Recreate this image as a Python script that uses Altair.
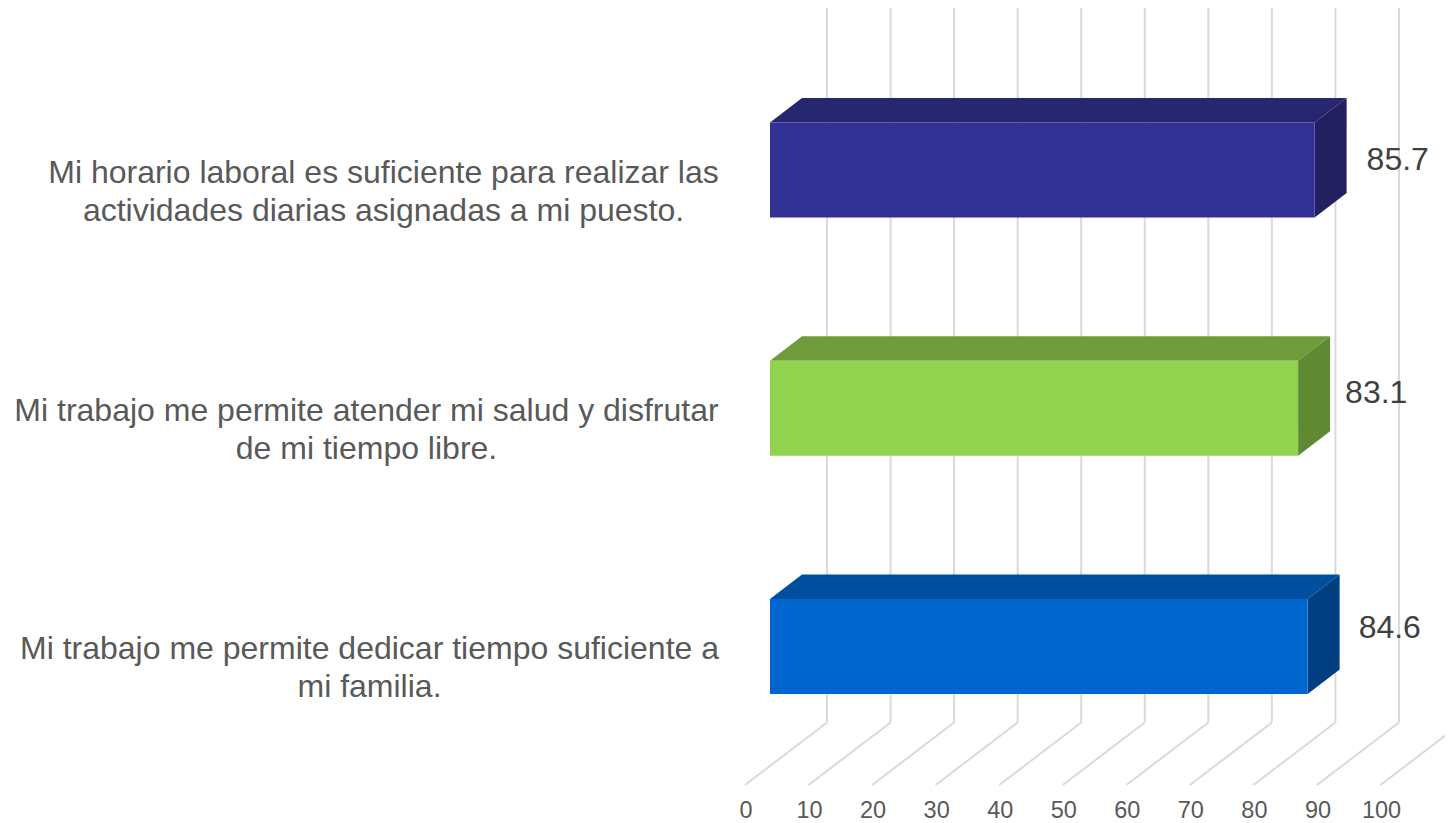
import altair as alt
import pandas as pd

# --- chart values ---
categories = [
    "Mi trabajo me permite dedicar tiempo suficiente a\nmi familia.",
    "Mi trabajo me permite atender mi salud y disfrutar\nde mi tiempo libre.",
    "Mi horario laboral es suficiente para realizar las\nactividades diarias asignadas a mi puesto.",
]
values = [84.6, 83.1, 85.7]
front_colors = ["#0066CF", "#91D34F", "#313094"]
top_colors = ["#004F9F", "#6F9B3A", "#272771"]
side_colors = ["#003F82", "#5F8A33", "#222060"]
axis_ticks = list(range(0, 110, 10))
grid_ticks = list(range(0, 100, 10))

# --- layout (in the chart's own units) ---
W, H = 1437, 815
PX_PER_X = 6.355
PX_PER_Y = 238.25
X0_PX = 770 - 8
Y0_PX = 646.5 - 8
x_domain = [-X0_PX / PX_PER_X, (W - X0_PX) / PX_PER_X]
y_domain = [(Y0_PX - H) / PX_PER_Y, Y0_PX / PX_PER_Y]


def dx(px):
    return px / PX_PER_X


def dy(px):
    return px / PX_PER_Y


def yp(image_px):
    return (646.5 - image_px) / PX_PER_Y


half = dy(47.5)
depth_x, depth_y = dx(32), dy(24.5)
label_gap = [dx(19), dx(15), dx(20)]
label_lift = [dy(19), dy(15), dy(10)]
cat_center = [dx(369.5 - 770), dx(366.5 - 770), dx(383.5 - 770)]
cat_drop = [dy(2), dy(3), dy(3)]

xs = alt.Scale(domain=x_domain, nice=False, zero=False)
ys = alt.Scale(domain=y_domain, nice=False, zero=False)
X = lambda f: alt.X(f"{f}:Q", scale=xs, axis=None)
Y = lambda f: alt.Y(f"{f}:Q", scale=ys, axis=None)
color = alt.Color("c:N", scale=None)

grid = pd.DataFrame(
    {
        "x": [t + dx(57) for t in grid_ticks],
        "y": [yp(8)] * len(grid_ticks),
        "y2": [yp(722.5)] * len(grid_ticks),
    }
)
floor = pd.DataFrame(
    {
        "x": [t + dx(-25) for t in axis_ticks],
        "x2": [t + dx(57) for t in axis_ticks],
        "y": [yp(785)] * len(axis_ticks),
        "y2": [yp(722.5)] * len(axis_ticks),
    }
)
tick_labels = pd.DataFrame(
    {
        "x": [t + dx(-24) for t in axis_ticks],
        "y": [yp(818)] * len(axis_ticks),
        "t": [str(t) for t in axis_ticks],
    }
)

front_rows, top_rows, side_rows, value_rows, cat_rows = [], [], [], [], []
for i, (cat, v) in enumerate(zip(categories, values)):
    front_rows.append({"x": 0, "x2": v, "y": i - half, "y2": i + half, "c": front_colors[i]})
    top_rows += [
        {"k": i, "x": 0, "x2": v, "y": i + half, "c": top_colors[i]},
        {"k": i, "x": depth_x, "x2": v + depth_x, "y": i + half + depth_y, "c": top_colors[i]},
    ]
    side_rows += [
        {"k": i, "x": v, "y": i - half, "y2": i + half, "c": side_colors[i]},
        {"k": i, "x": v + depth_x, "y": i - half + depth_y, "y2": i + half + depth_y, "c": side_colors[i]},
    ]
    value_rows.append({"x": v + depth_x + label_gap[i], "y": i + label_lift[i], "t": f"{v:.1f}"})
    cat_rows.append({"x": cat_center[i], "y": i - cat_drop[i], "t": cat})

grid_layer = alt.Chart(grid).mark_rule(color="#D9D9D9", strokeWidth=2).encode(
    x=X("x"), y=Y("y"), y2="y2:Q"
)
floor_layer = alt.Chart(floor).mark_rule(color="#D9D9D9", strokeWidth=2).encode(
    x=X("x"), x2="x2:Q", y=Y("y"), y2="y2:Q"
)
tick_layer = alt.Chart(tick_labels).mark_text(
    font="Liberation Sans", fontSize=23.5, color="#595959", align="center", baseline="alphabetic"
).encode(x=X("x"), y=Y("y"), text="t:N")

top_layer = alt.Chart(pd.DataFrame(top_rows)).mark_area(orient="horizontal").encode(
    x=alt.X("x:Q", scale=xs, axis=None, stack=None), x2="x2:Q", y=Y("y"), color=color, detail="k:N"
)
side_layer = alt.Chart(pd.DataFrame(side_rows)).mark_area(orient="vertical").encode(
    x=X("x"), y=alt.Y("y:Q", scale=ys, axis=None, stack=None), y2="y2:Q", color=color, detail="k:N"
)
front_layer = alt.Chart(pd.DataFrame(front_rows)).mark_rect().encode(
    x=X("x"), x2="x2:Q", y=Y("y"), y2="y2:Q", color=color
)
value_layer = alt.Chart(pd.DataFrame(value_rows)).mark_text(
    font="Liberation Sans", fontSize=32, color="#404040", align="left", baseline="middle"
).encode(x=X("x"), y=Y("y"), text="t:N")
cat_layer = alt.Chart(pd.DataFrame(cat_rows)).mark_text(
    font="Liberation Sans", fontSize=32, color="#595959", align="center", baseline="middle",
    lineBreak="\n", lineHeight=38,
).encode(x=X("x"), y=Y("y"), text="t:N")

chart = (
    alt.layer(grid_layer, floor_layer, tick_layer, top_layer, side_layer, front_layer, value_layer, cat_layer)
    .properties(width=W, height=H, padding=0, autosize=alt.AutoSizeParams(type="none"))
    .configure_view(stroke=None)
)
chart.save("out.html", embed_options={"renderer": "svg", "actions": False})
